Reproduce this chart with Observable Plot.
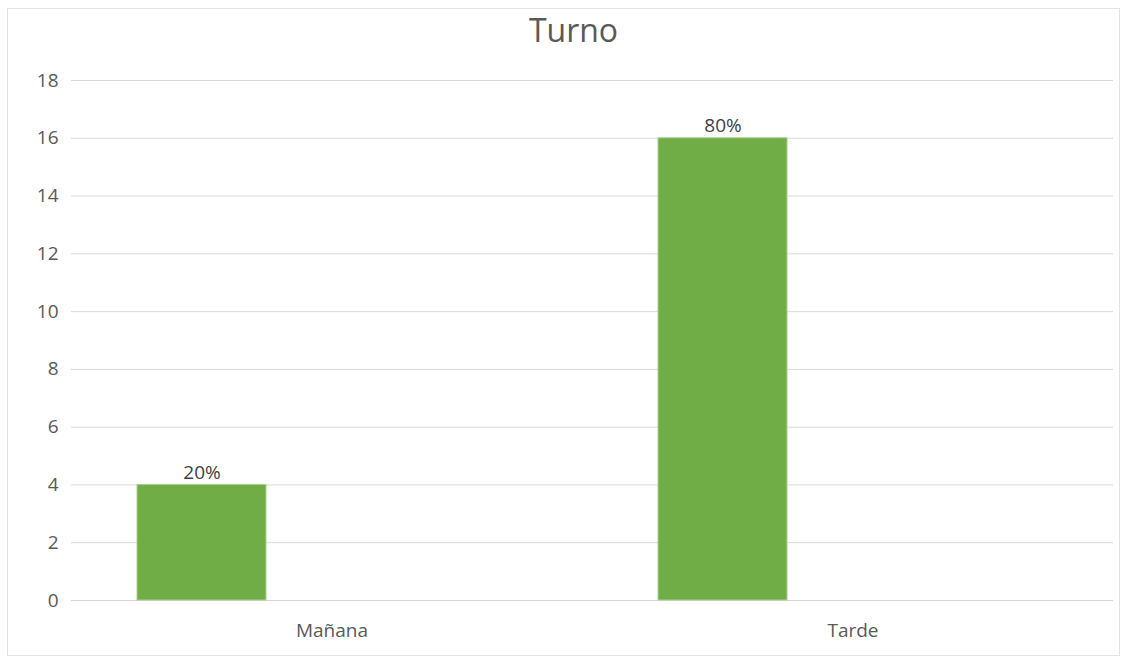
<!DOCTYPE html>
<html>
<head>
<meta charset="utf-8">
<script src="https://cdn.jsdelivr.net/npm/d3@7"></script>
<script src="https://cdn.jsdelivr.net/npm/@observablehq/plot@0.6"></script>
<style>
  html, body { margin: 0; padding: 0; background: #ffffff; }
  #page { position: relative; width: 1129px; height: 664px; overflow: hidden; font-family: "Open Sans", sans-serif; }
  #frame { position: absolute; left: 7px; top: 8px; width: 1113px; height: 648px; border: 1px solid #e3e3e3; box-sizing: border-box; }
  #title { position: absolute; left: 9px; width: 1129px; top: 14px; text-align: center; font-size: 32px; line-height: 32px; color: #595959; }
  #chart { position: absolute; left: 0; top: 50px; }
</style>
</head>
<body>
<div id="page">
  <div id="frame"></div>
  <div id="title">Turno</div>
  <div id="chart"></div>
</div>
<script>
// Shift categories and respondent counts
const turnos = ["Mañana", "Tarde"];
const cantidades = [4, 16];
// Clustered layout: one filled series plus an empty slot per category
const series = ["Cantidad", "Sin datos"];
const yTicks = [0, 2, 4, 6, 8, 10, 12, 14, 16, 18];

const total = d3.sum(cantidades);
const rows = turnos.map((t, i) => ({
  turno: t,
  serie: series[0],
  n: cantidades[i],
  pct: d3.format(".0%")(cantidades[i] / total)
}));

const chart = Plot.plot({
  width: 1129,
  height: 614,
  marginTop: 30,
  marginBottom: 64,
  marginLeft: 70,
  marginRight: 16,
  style: { fontFamily: "Open Sans, sans-serif", color: "#595959", background: "transparent" },
  fx: { domain: turnos, padding: 0 },
  x: { domain: series, paddingInner: 0.505, paddingOuter: 0.253, axis: null },
  y: { domain: [0, 18] },
  marks: [
    Plot.gridY(yTicks, { stroke: "#d9d9d9", strokeOpacity: 1, strokeWidth: 1 }),
    Plot.ruleY([0], { stroke: "#d4d4d4", strokeWidth: 1 }),
    Plot.axisY({ ticks: yTicks, tickSize: 0, tickPadding: 13, fontSize: 19, label: null }),
    Plot.axisFx({ anchor: "bottom", tickSize: 0, tickPadding: 23, fontSize: 19, label: null }),
    Plot.barY(rows, { fx: "turno", x: "serie", y: "n", fill: "#70ad47", stroke: "#a9d18e", strokeWidth: 1 }),
    Plot.text(rows, { fx: "turno", x: "serie", y: "n", text: "pct", lineAnchor: "bottom", dy: -6, fontSize: 19, fill: "#404040" })
  ]
});

document.getElementById("chart").appendChild(chart);
</script>
</body>
</html>
